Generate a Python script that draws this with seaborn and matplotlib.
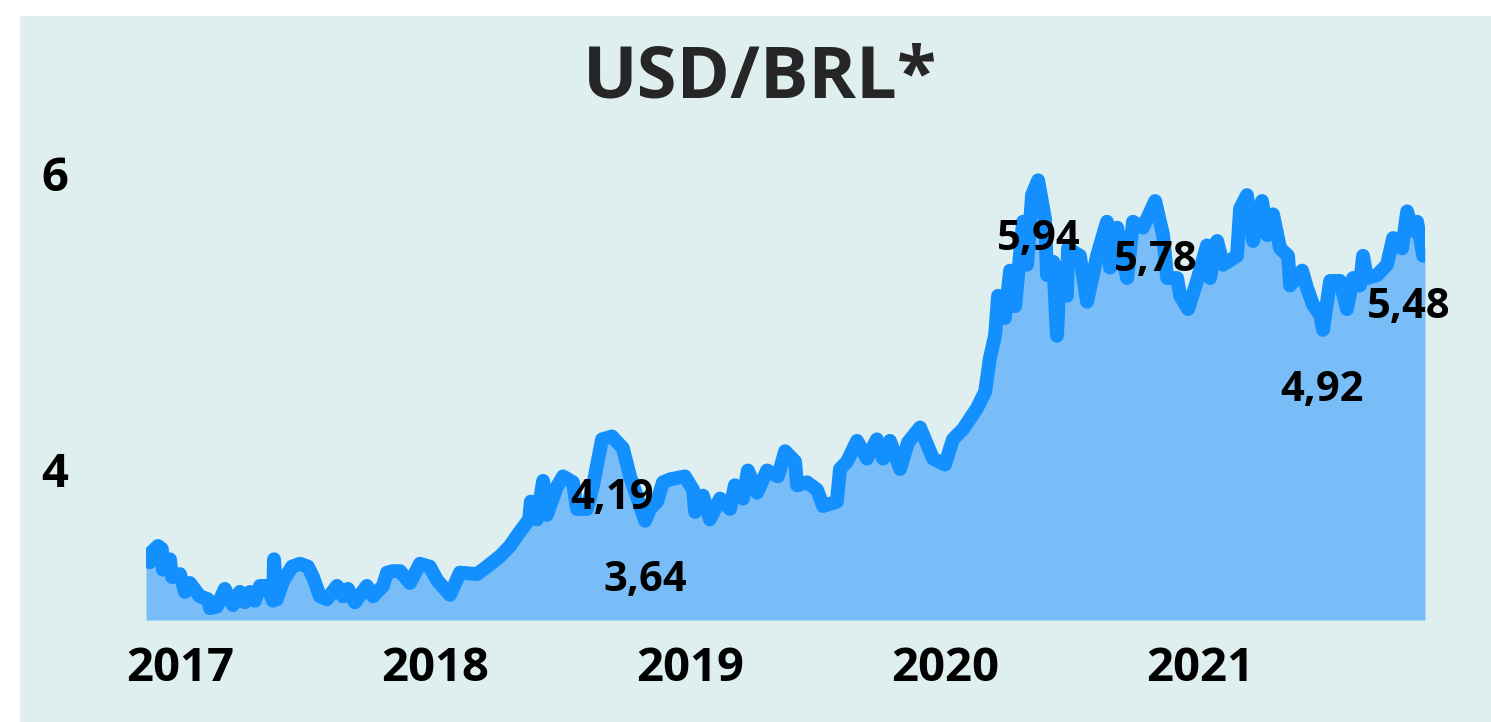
import numpy as np
import pandas as pd
import matplotlib
matplotlib.use("Agg")
import matplotlib.pyplot as plt
from matplotlib.patches import Rectangle
import seaborn as sns

# USD/BRL, leitura aproximada do gráfico (ano decimal, cotação)
years = [
    2016.867, 2016.882, 2016.890, 2016.914, 2016.929, 2016.933, 2016.961, 2016.969,
    2017.000, 2017.020, 2017.039, 2017.078, 2017.110, 2017.118, 2017.145, 2017.176,
    2017.208, 2017.235, 2017.255, 2017.275, 2017.294, 2017.314, 2017.341, 2017.365,
    2017.369, 2017.380, 2017.404, 2017.439, 2017.471, 2017.502, 2017.522, 2017.549,
    2017.576, 2017.616, 2017.639, 2017.659, 2017.686, 2017.733, 2017.757, 2017.796,
    2017.812, 2017.835, 2017.863, 2017.902, 2017.941, 2017.980,
    2018.008, 2018.059, 2018.098, 2018.165, 2018.204, 2018.255, 2018.294, 2018.322,
    2018.369, 2018.376, 2018.400, 2018.424, 2018.439, 2018.478, 2018.502, 2018.541,
    2018.557, 2018.596, 2018.620, 2018.655, 2018.694, 2018.737, 2018.765, 2018.824,
    2018.843, 2018.871, 2018.894, 2018.922, 2018.980,
    2019.012, 2019.020, 2019.051, 2019.078, 2019.118, 2019.157, 2019.176, 2019.208,
    2019.227, 2019.263, 2019.302, 2019.345, 2019.373, 2019.412, 2019.420, 2019.459,
    2019.498, 2019.522, 2019.576, 2019.588, 2019.616, 2019.655, 2019.694, 2019.733,
    2019.757, 2019.784, 2019.824, 2019.855, 2019.902, 2019.953,
    2020.000, 2020.031, 2020.071, 2020.125, 2020.157, 2020.176, 2020.196, 2020.208,
    2020.235, 2020.255, 2020.275, 2020.306, 2020.322, 2020.341, 2020.365, 2020.392,
    2020.400, 2020.424, 2020.439, 2020.451, 2020.478, 2020.482, 2020.529, 2020.557,
    2020.596, 2020.635, 2020.647, 2020.675, 2020.714, 2020.737, 2020.776, 2020.824,
    2020.855, 2020.871, 2020.910, 2020.922, 2020.953, 2020.988,
    2021.027, 2021.039, 2021.067, 2021.090, 2021.145, 2021.157, 2021.184, 2021.208,
    2021.243, 2021.263, 2021.286, 2021.314, 2021.345, 2021.353, 2021.400, 2021.420,
    2021.443, 2021.471, 2021.482, 2021.510, 2021.549, 2021.576, 2021.600, 2021.627,
    2021.639, 2021.655, 2021.694, 2021.733, 2021.757, 2021.792, 2021.812, 2021.831,
    2021.851, 2021.875, 2021.882,
]
rates = [
    3.40, 3.37, 3.44, 3.48, 3.46, 3.32, 3.39, 3.27,
    3.29, 3.17, 3.23, 3.14, 3.12, 3.06, 3.07, 3.19,
    3.08, 3.17, 3.10, 3.17, 3.11, 3.21, 3.21, 3.11,
    3.39, 3.12, 3.24, 3.34, 3.36, 3.34, 3.27, 3.14,
    3.12, 3.21, 3.14, 3.19, 3.10, 3.21, 3.14, 3.21,
    3.30, 3.31, 3.31, 3.23, 3.36, 3.34,
    3.25, 3.15, 3.30, 3.29, 3.34, 3.41, 3.48, 3.55,
    3.66, 3.78, 3.66, 3.92, 3.69, 3.88, 3.95, 3.91,
    3.73, 3.73, 3.89, 4.20, 4.22, 4.14, 3.95, 3.65,
    3.73, 3.78, 3.91, 3.93, 3.95,
    3.86, 3.71, 3.82, 3.66, 3.80, 3.73, 3.89, 3.80,
    3.99, 3.84, 3.99, 3.95, 4.12, 4.05, 3.89, 3.91,
    3.86, 3.75, 3.78, 4.00, 4.05, 4.19, 4.07, 4.20,
    4.07, 4.19, 4.00, 4.18, 4.28, 4.07,
    4.03, 4.20, 4.27, 4.41, 4.52, 4.75, 4.90, 5.17,
    5.02, 5.34, 5.10, 5.67, 5.38, 5.85, 5.95, 5.69,
    5.31, 5.40, 4.90, 5.36, 5.17, 5.49, 5.44, 5.13,
    5.44, 5.67, 5.36, 5.63, 5.29, 5.67, 5.63, 5.81,
    5.58, 5.29, 5.29, 5.17, 5.08, 5.27,
    5.51, 5.29, 5.54, 5.38, 5.44, 5.76, 5.85, 5.54,
    5.81, 5.58, 5.72, 5.49, 5.44, 5.24, 5.34, 5.22,
    5.11, 5.04, 4.94, 5.27, 5.27, 5.08, 5.29, 5.24,
    5.44, 5.29, 5.31, 5.38, 5.56, 5.49, 5.74, 5.61,
    5.67, 5.44, 5.50,
]

# rótulos de destaque
label_texts = ["4,19", "3,64", "5,94", "5,78", "4,92", "5,48"]
label_x = [2018.694, 2018.824, 2020.369, 2020.827, 2021.478, 2021.820]
label_y = [3.729, 3.173, 5.478, 5.336, 4.461, 5.017]

year_ticks = [2017, 2018, 2019, 2020, 2021]
value_ticks = [4, 6]

df = pd.DataFrame({"ano": years, "cotacao": rates})

sns.set_style("white")
plt.rcParams["font.family"] = ["Open Sans", "DejaVu Sans"]

W, H = 1491, 722
fig = plt.figure(figsize=(W / 100, H / 100), dpi=100)
fig.patch.set_facecolor("white")
fig.add_artist(Rectangle((20 / W, 0), 1, 1 - 16 / H, transform=fig.transFigure,
                         facecolor="#DFEFEF", edgecolor="none", zorder=-10))

ymin, ymax = 2.98, 6.2
left, right = 146 / W, 1425 / W
bottom = 1 - 620 / H
top_px = 173 - (ymax - 6) * 148.5
ax = fig.add_axes([left, bottom, right - left, (620 - top_px) / H])
ax.set_facecolor("none")

ax.fill_between(df["ano"], df["cotacao"], ymin, color="#78BDF7", lw=0, zorder=1)
sns.lineplot(data=df, x="ano", y="cotacao", ax=ax, color="#148FFE", lw=10,
             estimator=None, sort=False, zorder=2,
             solid_capstyle="round", solid_joinstyle="round")

ax.set_xlim(years[0], years[-1])
ax.set_ylim(ymin, ymax)
ax.set_xticks(year_ticks)
ax.set_xticklabels([str(y) for y in year_ticks])
ax.set_yticks(value_ticks)
ax.set_yticklabels([str(v) for v in value_ticks])
ax.tick_params(axis="x", length=0, pad=18, labelsize=34)
ax.tick_params(axis="y", length=0, pad=56, labelsize=34)
for lab in ax.get_xticklabels() + ax.get_yticklabels():
    lab.set_fontweight("bold")
    lab.set_color("black")
ax.set_xlabel("")
ax.set_ylabel("")
for s in ax.spines.values():
    s.set_visible(False)

for t, x, y in zip(label_texts, label_x, label_y):
    ax.text(x, y, t, ha="center", va="baseline", fontsize=30,
            fontweight="bold", color="black", zorder=3, clip_on=False)

fig.text(760 / W, 1 - 98 / H, "USD/BRL*", ha="center", va="baseline",
         fontsize=52, fontweight="bold", color="#262626")

fig.savefig("out.png", dpi=100)
